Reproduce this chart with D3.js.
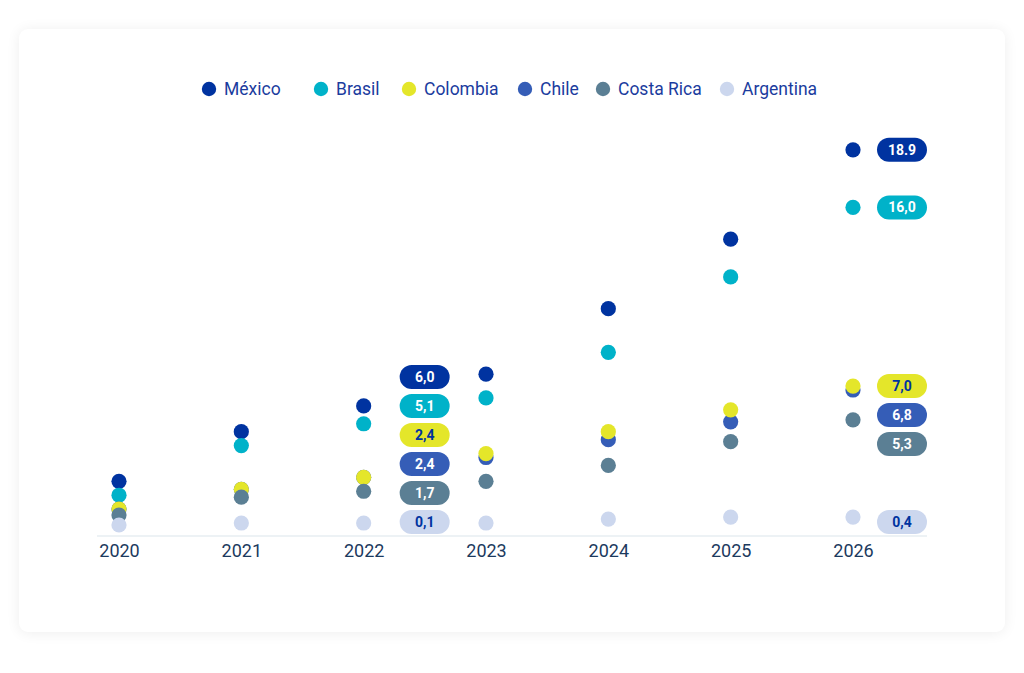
<!DOCTYPE html>
<html>
<head>
<meta charset="utf-8">
<script src="https://cdn.jsdelivr.net/npm/d3@7"></script>
<style>
  html, body { margin: 0; padding: 0; background: #ffffff; }
  body { width: 1024px; height: 673px; position: relative; overflow: hidden; font-family: Roboto, "Noto Sans", sans-serif; }
  #card { position: absolute; left: 19px; top: 29px; width: 986px; height: 603px; background: #fff; border-radius: 9px;
          box-shadow: 0 1px 14px rgba(0,0,0,0.07); }
  svg { position: absolute; left: 0; top: 0; }
</style>
</head>
<body>
<div id="card"></div>
<svg id="chart" width="1024" height="673"></svg>
<script>
// ---- data ----
const years = ["2020", "2021", "2022", "2023", "2024", "2025", "2026"];
const seriesNames = ["México", "Brasil", "Colombia", "Chile", "Costa Rica", "Argentina"];
const mexico    = [2.2, 4.7, 6.0, 7.6, 10.9, 14.4, 18.9];
const brasil    = [1.5, 4.0, 5.1, 6.4, 8.7, 12.5, 16.0];
const colombia  = [0.8, 1.8, 2.4, 3.6, 4.7, 5.8, 7.0];
const chile     = [0.8, 1.8, 2.4, 3.4, 4.3, 5.2, 6.8];
const costaRica = [0.5, 1.4, 1.7, 2.2, 3.0, 4.2, 5.3];
const argentina = [0.0, 0.1, 0.1, 0.1, 0.3, 0.4, 0.4];
const labelYears = ["2022", "2026"];
const labels2022 = ["6,0", "5,1", "2,4", "2,4", "1,7", "0,1"];
const labels2026 = ["18.9", "16,0", "7,0", "6,8", "5,3", "0,4"];

// ---- styles ----
const colors = ["#0033a0", "#00b2c9", "#e4e62a", "#355db7", "#5b7f94", "#ccd7ee"];
const labelTextColors = ["#ffffff", "#ffffff", "#0033a0", "#ffffff", "#ffffff", "#0033a0"];
const seriesValues = [mexico, brasil, colombia, chile, costaRica, argentina];

const svg = d3.select("#chart");

const x = d3.scalePoint().domain(years).range([119, 853]);
const y = d3.scaleLinear().domain([0, 20]).range([525, 128]);
const axisY = 536, axisX0 = 97, axisX1 = 927;

// axis line
svg.append("line")
  .attr("x1", axisX0).attr("x2", axisX1).attr("y1", axisY).attr("y2", axisY)
  .attr("stroke", "#dbe5ec").attr("stroke-width", 1.2);

const ax = svg.append("g").attr("transform", `translate(0,${axisY})`)
  .call(d3.axisBottom(x).tickSize(0).tickPadding(8));
ax.select(".domain").remove();
ax.selectAll("text").attr("font-family", "Roboto, sans-serif").attr("font-size", 18)
  .attr("fill", "#1c3a5e");

// points: draw order México, Brasil, Chile, Colombia, Costa Rica, Argentina
const order = [0, 1, 3, 2, 4, 5];
const pts = [];
order.forEach(si => {
  seriesValues[si].forEach((v, i) => pts.push({ si, year: years[i], v }));
});
svg.append("g").selectAll("circle").data(pts).join("circle")
  .attr("cx", d => x(d.year))
  .attr("cy", d => y(d.v))
  .attr("r", 7.6)
  .attr("fill", d => colors[d.si]);

// value pills
const labelSets = [labels2022, labels2026];
const pillW = 50, pillH = 24, gap = 29, bottomLimit = 522;
labelYears.forEach((yr, k) => {
  const idx = years.indexOf(yr);
  const items = seriesNames.map((n, si) => ({ si, v: seriesValues[si][idx], text: labelSets[k][si] }))
    .map(d => ({ ...d, want: y(d.v) }))
    .sort((a, b) => a.want - b.want || a.si - b.si);
  // top-down pass
  items.forEach((d, i) => { d.py = i === 0 ? d.want : Math.max(d.want, items[i - 1].py + gap); });
  // bottom-up pass: lowest label sits on the baseline row
  for (let i = items.length - 1; i >= 0; i--) {
    items[i].py = i === items.length - 1 ? bottomLimit : Math.min(items[i].py, items[i + 1].py - gap);
  }
  const left = Math.min(x(yr) + 36, axisX1 - pillW);
  const g = svg.append("g");
  const pg = g.selectAll("g").data(items).join("g")
    .attr("transform", d => `translate(${left},${d.py})`);
  pg.append("rect")
    .attr("x", 0).attr("y", -pillH / 2).attr("width", pillW).attr("height", pillH)
    .attr("rx", pillH / 2).attr("fill", d => colors[d.si]);
  pg.append("text")
    .attr("x", pillW / 2).attr("y", 0).attr("dy", "0.36em")
    .attr("text-anchor", "middle")
    .attr("font-family", "Roboto, sans-serif").attr("font-weight", 700).attr("font-size", 14)
    .attr("fill", d => labelTextColors[d.si])
    .text(d => d.text);
});

// legend
const legendCircleX = [209, 321, 409, 525, 603, 727];
const legendY = 89;
const lg = svg.append("g").selectAll("g").data(seriesNames).join("g")
  .attr("transform", (d, i) => `translate(${legendCircleX[i]},${legendY})`);
lg.append("circle").attr("r", 7.2).attr("fill", (d, i) => colors[i]);
lg.append("text").attr("x", 15).attr("dy", "0.36em")
  .attr("font-family", "Roboto, sans-serif").attr("font-size", 17.5)
  .attr("fill", "#1b3c9e").text(d => d);
</script>
</body>
</html>
